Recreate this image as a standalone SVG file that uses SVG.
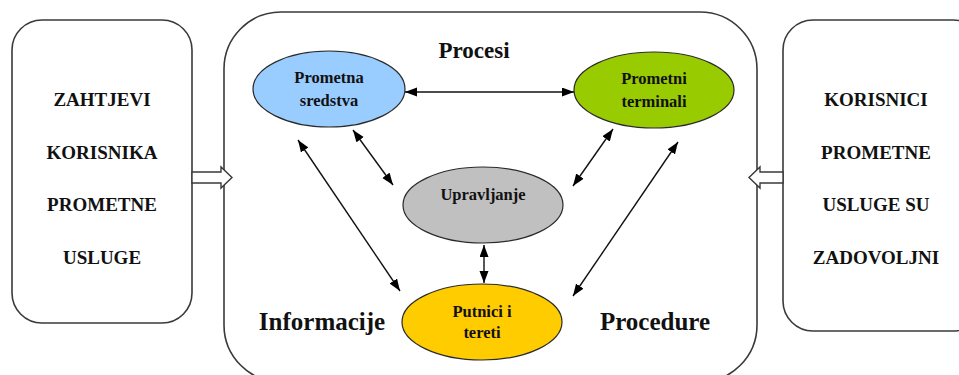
<svg xmlns="http://www.w3.org/2000/svg" width="959" height="375" viewBox="0 0 959 375">
<style>
.box{fill:#fff;stroke:#3a3a3a;stroke-width:1.6}
.hol{fill:#fff;stroke:#3a3a3a;stroke-width:1.4;stroke-linejoin:miter}
.ell{stroke:#2a2a2a;stroke-width:1.2}
.con{stroke:#111;stroke-width:1.4;fill:none;marker-start:url(#ah);marker-end:url(#ah)}
.bt{font-family:"Liberation Serif","Times New Roman",serif;font-weight:bold;font-size:19px;fill:#111;text-anchor:middle}
.nt{font-family:"Liberation Serif","Times New Roman",serif;font-weight:bold;font-size:16.5px;fill:#111;text-anchor:middle}
.lt{font-family:"Liberation Serif","Times New Roman",serif;font-weight:bold;font-size:25px;fill:#111;text-anchor:middle}
</style>
<defs>
<marker id="ah" markerUnits="userSpaceOnUse" markerWidth="13" markerHeight="10" refX="12" refY="4.5" orient="auto-start-reverse">
<path d="M0,0 L12,4.5 L0,9 z" fill="#000"/>
</marker>
</defs>
<rect width="959" height="375" fill="#fff"/>
<g id="left-box">
<rect class="box" x="12" y="20" width="180" height="303" rx="30"/>
<text class="bt" x="102" y="106">ZAHTJEVI</text>
<text class="bt" x="102" y="159">KORISNIKA</text>
<text class="bt" x="102" y="211">PROMETNE</text>
<text class="bt" x="102" y="264">USLUGE</text>
</g>
<g id="center-box">
<rect class="box" x="224" y="12" width="533" height="370" rx="57"/>
<text class="lt" x="474" y="58" style="font-size:23px">Procesi</text>
<text class="lt" x="322" y="330">Informacije</text>
<text class="lt" x="655" y="330">Procedure</text>
</g>
<g id="right-box">
<rect class="box" x="783" y="20" width="200" height="311" rx="30"/>
<text class="bt" x="876" y="106">KORISNICI</text>
<text class="bt" x="876" y="159">PROMETNE</text>
<text class="bt" x="876" y="211">USLUGE SU</text>
<text class="bt" x="876" y="264">ZADOVOLJNI</text>
</g>
<g id="input-arrow">
<polygon class="hol" points="192,172 221,172 221,167 232,177.5 221,188 221,183 192,183"/>
</g>
<g id="output-arrow">
<polygon class="hol" points="783,172 760,172 760,167 749,177.5 760,188 760,183 783,183"/>
</g>
<g id="prometna-sredstva">
<ellipse class="ell" cx="329" cy="89" rx="76" ry="38" fill="#99CCFF"/>
<text class="nt" x="329" y="83">Prometna</text>
<text class="nt" x="329" y="106">sredstva</text>
</g>
<g id="prometni-terminali">
<ellipse class="ell" cx="654" cy="90" rx="80" ry="38" fill="#99CC00"/>
<text class="nt" x="654" y="84">Prometni</text>
<text class="nt" x="654" y="107">terminali</text>
</g>
<g id="upravljanje">
<ellipse class="ell" cx="483" cy="205" rx="80" ry="38" fill="#C0C0C0"/>
<text class="nt" x="483" y="200">Upravljanje</text>
</g>
<g id="putnici-i-tereti">
<ellipse class="ell" cx="482" cy="322" rx="80" ry="38" fill="#FFCC00"/>
<text class="nt" x="482" y="317">Putnici i</text>
<text class="nt" x="482" y="338">tereti</text>
</g>
<g id="connectors">
<line class="con" x1="405" y1="92" x2="574" y2="92"/>
<line class="con" x1="353" y1="130" x2="393" y2="185"/>
<line class="con" x1="613" y1="129" x2="573" y2="186"/>
<line class="con" x1="484" y1="245" x2="484" y2="283"/>
<line class="con" x1="298" y1="140" x2="400" y2="291"/>
<line class="con" x1="678" y1="142" x2="573" y2="296"/>
</g>
</svg>
